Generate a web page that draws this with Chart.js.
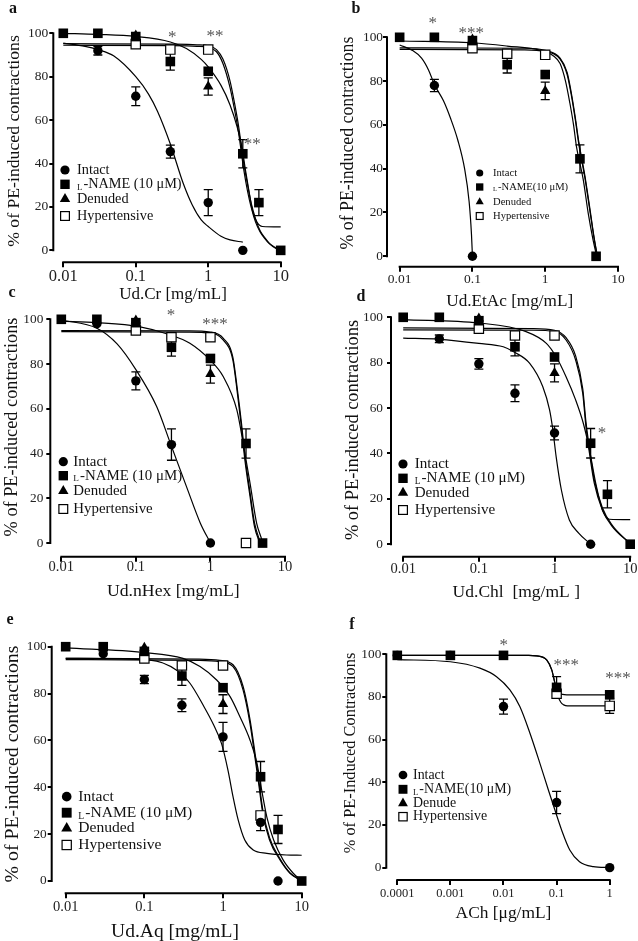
<!DOCTYPE html>
<html>
<head>
<meta charset="utf-8">
<script src="https://cdn.jsdelivr.net/npm/chart.js"></script>
<style>
  html, body { margin: 0; padding: 0; background: #fff; }
  #wrap { position: relative; width: 638px; height: 941px; overflow: hidden; }
  #wrap canvas { position: absolute; left: 0; top: 0; }
</style>
</head>
<body>
<div id="wrap">
  <canvas id="chartA" width="638" height="941"></canvas>
  <canvas id="chartB" width="638" height="941"></canvas>
  <canvas id="chartC" width="638" height="941"></canvas>
  <canvas id="chartD" width="638" height="941"></canvas>
  <canvas id="chartE" width="638" height="941"></canvas>
  <canvas id="chartF" width="638" height="941"></canvas>
</div>
<script>
// ---- tick values
const doseTicks = [0.01, 0.1, 1, 10];
const achTicks = [0.0001, 0.001, 0.01, 0.1, 1];
const pctTicks = [0, 20, 40, 60, 80, 100];

const legendLabels = ["Intact", "L-NAME (10 μM)", "Denuded", "Hypertensive"];
const legendLabelsB = ["Intact", "L-NAME(10 μM)", "Denuded", "Hypertensive"];
const legendLabelsF = ["Intact", "L-NAME(10 μM)", "Denude", "Hypertensive"];

// ---- points: [dose, % of PE-induced contraction, SEM]   fits: [dose, %]
// panel a (Ud.Cr)
const aIntact = [[0.03, 92, 2], [0.1, 71, 4.3], [0.3, 45.5, 3], [1, 22, 6], [3, 0, 0]];
const aLname = [[0.01, 100, 0], [0.03, 100, 0], [0.1, 98.5, 0], [0.3, 87, 4], [1, 82.5, 0], [3, 44.5, 6.5], [5, 22, 6], [10, 0, 0]];
const aDenuded = [[0.1, 99, 0], [1, 75.5, 4]];
const aHyper = [[0.1, 95, 0], [0.3, 92.5, 0], [1, 92.5, 0]];
const aFitIntact = [[0.01, 95.5], [0.02, 94], [0.03, 92.5], [0.05, 89.5], [0.1, 80], [0.15, 72], [0.2, 64], [0.3, 49], [0.45, 31], [0.6, 21], [0.8, 14], [1, 11], [1.5, 6.5], [2, 4.8], [3, 3.8]];
const aFitLname = [[0.01, 100], [0.03, 99.5], [0.1, 98.5], [0.3, 96], [0.5, 93], [0.8, 88], [1, 84.5], [1.5, 76], [2, 67], [2.5, 57], [2.9, 48], [3.3, 36], [3.7, 26], [4.1, 18], [4.7, 13], [5.6, 11], [10, 10.8]];
const aFitDenuded = [[0.01, 95.2], [0.3, 95], [0.7, 94.7], [1, 94.2], [1.3, 92.5], [1.6, 88], [2, 78], [2.3, 68], [2.6, 58], [3.1, 40], [3.5, 30], [3.9, 22], [4.5, 14.5], [5.2, 9], [6, 6], [7, 3.2], [8.5, 1.2], [10, 0]];
const aFitHyper = [[0.01, 94.5], [0.3, 94.3], [0.7, 94], [1, 93.5], [1.3, 91.5], [1.6, 86], [2, 75], [2.3, 65], [2.6, 55], [3.1, 37], [3.5, 27], [3.9, 20], [4.5, 13], [5.2, 8.5], [6, 5.5], [7, 3], [8.5, 1], [10, 0]];
const aStars = [[0.32, 100, "*"], [1.24, 100.5, "**"], [4.05, 50.8, "**"]];

// panel b (Ud.EtAc)
const bIntact = [[0.03, 78, 2.8], [0.1, 0, 0]];
const bLname = [[0.01, 100, 0], [0.03, 100, 0], [0.1, 98.5, 0], [0.3, 87.5, 3.8], [1, 83, 0], [3, 44.5, 6.4], [5, 0, 0]];
const bDenuded = [[0.1, 99, 0], [1, 75.5, 4]];
const bHyper = [[0.1, 95, 0], [0.3, 92.5, 0], [1, 92, 0]];
const bFitIntact = [[0.01, 96.5], [0.015, 94], [0.02, 90.5], [0.025, 85], [0.03, 78.5], [0.04, 71], [0.05, 63], [0.063, 53], [0.078, 40], [0.09, 25], [0.097, 10], [0.1, 0]];
const bFitLname = [[0.01, 98.3], [0.1, 97.5], [0.3, 96], [0.88, 94], [1.3, 91.5], [1.6, 88], [1.9, 80], [2.18, 70], [2.45, 60], [2.69, 50], [3.33, 35], [3.9, 19.6], [4.55, 7.4], [5.1, 0]];
const bFitDenuded = [[0.01, 95.2], [0.5, 95], [1, 94], [1.6, 90.5], [2, 84], [2.3, 74], [2.6, 63], [2.9, 52], [3.5, 37], [4.1, 22], [4.7, 8.5], [5.2, 0]];
const bFitHyper = [[0.01, 94.5], [0.5, 94.3], [1, 93.5], [1.6, 90], [2, 83], [2.3, 73], [2.6, 62], [2.9, 51], [3.5, 36], [4.1, 21], [4.7, 8], [5.2, 0]];
const bStars = [[0.0286, 107.9, "*"], [0.096, 103.6, "***"]];

// panel c (Ud.nHex)
const cIntact = [[0.03, 98, 0], [0.1, 72.5, 4], [0.3, 44, 7], [1, 0, 0]];
const cLname = [[0.01, 100, 0], [0.03, 100, 0], [0.1, 98.5, 0], [0.3, 87.5, 4], [1, 82.5, 0], [3, 44.5, 6.5], [5, 0, 0]];
const cDenuded = [[0.1, 99.5, 0], [1, 75.5, 4]];
const cHyper = [[0.1, 95, 0], [0.3, 92, 0], [1, 92, 0], [3, 0, 0]];
const cFitIntact = [[0.01, 99.7], [0.03, 96], [0.056, 89], [0.1, 77.5], [0.19, 61], [0.29, 44.6], [0.48, 25], [0.73, 9], [1, 0]];
const cFitLname = [[0.01, 99.2], [0.03, 98.5], [0.11, 96.7], [0.29, 93], [0.53, 89.3], [0.99, 81.8], [1.49, 74.3], [2.26, 59.5], [2.75, 44.6], [3.4, 26.7], [4.17, 8.8], [4.9, 1.3], [5, 0]];
const cFitDenuded = [[0.01, 95], [0.5, 94.8], [1, 94.3], [1.49, 91.5], [2, 83], [2.3, 68.5], [2.6, 54], [2.9, 39], [3.4, 22.5], [3.9, 9], [4.7, 0]];
const cFitHyper = [[0.01, 94.5], [0.5, 94.3], [1, 93.8], [1.49, 90.7], [2, 81.8], [2.3, 66.9], [2.6, 52], [2.9, 37], [3.4, 20.7], [3.9, 7.3], [4.6, 0]];
const cStars = [[0.297, 103.4, "*"], [1.15, 99.4, "***"]];

// panel d (Ud.Chl)
const dIntact = [[0.03, 90.5, 1.7], [0.1, 79.5, 2.3], [0.3, 66.5, 3.7], [1, 49, 3], [3, 0, 0]];
const dLname = [[0.01, 100, 0], [0.03, 100, 0], [0.1, 98.5, 0], [0.3, 87, 4], [1, 82.5, 0], [3, 44.5, 6.5], [5, 22, 6], [10, 0, 0]];
const dDenuded = [[0.1, 99.5, 0], [1, 75.5, 4]];
const dHyper = [[0.1, 95, 0], [0.3, 92, 0], [1, 92, 0]];
const dFitIntact = [[0.01, 90.8], [0.03, 90.3], [0.1, 88.5], [0.21, 87], [0.3, 84.5], [0.47, 79.7], [0.7, 69.4], [0.86, 59.2], [0.95, 50.4], [1.05, 38.6], [1.23, 24], [1.57, 10.7], [2.1, 4.8], [2.9, 0.4]];
const dFitLname = [[0.01, 99], [0.1, 97.5], [0.42, 93.7], [0.78, 88.5], [1.05, 82.6], [1.42, 73.8], [1.9, 63.6], [2.4, 53.3], [2.9, 41.5], [3.5, 26.9], [4.3, 15.1], [5.3, 11], [10, 10.8]];
const dFitDenuded = [[0.01, 95.3], [0.5, 95], [1, 94.3], [1.42, 91], [1.9, 83], [2.36, 68.5], [2.6, 54], [2.9, 42], [3.35, 28.5], [4.3, 16], [5.8, 8.3], [8.8, 2], [10, 0.4]];
const dFitHyper = [[0.01, 94.5], [0.5, 94.3], [1, 93.8], [1.42, 90], [1.9, 81.2], [2.36, 66.5], [2.6, 51.8], [2.9, 40], [3.35, 26.9], [4.3, 15], [5.8, 7.8], [8.8, 1.9], [10, 0.4]];
const dStars = [[4.25, 50.7, "*"]];

// panel e (Ud.Aq)
const eIntact = [[0.03, 97, 0], [0.1, 86, 1.8], [0.3, 75, 2.7], [1, 61.5, 6.2], [3, 25, 3.5], [5, 0, 0]];
const eLname = [[0.01, 100, 0], [0.03, 100, 0], [0.1, 98, 0], [0.3, 87.5, 4], [1, 82.5, 0], [3, 44.5, 6.5], [5, 22, 6], [10, 0, 0]];
const eDenuded = [[0.1, 99.5, 0], [1, 75.5, 4]];
const eHyper = [[0.1, 95, 0], [0.3, 92, 0], [1, 92, 0], [3, 28, 0]];
const eFitIntact = [[0.01, 95], [0.118, 94.3], [0.257, 90], [0.38, 84.4], [0.56, 75], [0.75, 67], [0.96, 58.5], [1.16, 47], [1.34, 36], [1.56, 26], [1.89, 17.5], [2.42, 13.2], [3.6, 11.8], [6.4, 11.1], [10, 11]];
const eFitLname = [[0.01, 99.5], [0.1, 97.5], [0.31, 95], [0.51, 91.5], [0.83, 85.8], [1.23, 78.7], [1.64, 70.1], [2.2, 60.2], [2.7, 50.2], [3.1, 38.8], [3.6, 27.4], [4.4, 17.5], [5.8, 9], [7.8, 3.3], [10, 0]];
const eFitDenuded = [[0.01, 95], [0.5, 94.7], [0.91, 94.2], [1.34, 92.3], [1.8, 83], [2.2, 69], [2.54, 55], [2.8, 45], [3.2, 30.5], [3.9, 18.5], [5.3, 9.5], [7.1, 3.5], [10, 0]];
const eFitHyper = [[0.01, 94.5], [0.5, 94.2], [0.91, 93.6], [1.34, 91.5], [1.8, 81.5], [2.2, 67.3], [2.54, 53], [2.8, 43], [3.2, 28.9], [3.9, 17.5], [5.3, 9], [7.1, 3.3], [10, 0]];
const eStars = [];

// panel f (ACh)
const fIntact = [[0.0001, 99.5, 0], [0.001, 99.5, 0], [0.01, 75.5, 3.5], [0.1, 30.5, 5.2], [1, 0, 0]];
const fLname = [[0.0001, 99.5, 0], [0.001, 99.5, 0], [0.01, 99.5, 0], [0.1, 84.5, 5], [1, 81, 0]];
const fDenude = [];
const fHyper = [[0.1, 81.5, 0], [1, 75.8, 3.5]];
const fFitIntact = [[0.0001, 97.5], [0.001, 96.5], [0.0036, 93.5], [0.0074, 89.5], [0.0132, 83.3], [0.0203, 75.5], [0.0315, 63], [0.0485, 48.9], [0.07, 36.4], [0.093, 27], [0.124, 17.7], [0.177, 8.3], [0.27, 2.8], [0.49, 0.5], [1, 0]];
const fFitLname = [[0.0001, 99.5], [0.03, 99.5], [0.042, 99.3], [0.065, 97.4], [0.081, 92.7], [0.093, 86.5], [0.106, 82.5], [0.13, 81.2], [0.155, 81], [1, 81]];
const fFitHyper = [[0.0001, 99.5], [0.03, 99.5], [0.042, 99.3], [0.065, 97.4], [0.081, 92.7], [0.093, 86.5], [0.106, 80.5], [0.12, 77.5], [0.136, 76.3], [0.16, 75.8], [1, 75.8]];
const fStars = [[0.0101, 106, "*"], [0.152, 96.6, "***"], [1.43, 90.3, "***"]];

// ---- look
const serif = '"Liberation Serif", "Times New Roman", serif';
// order: intact, L-NAME, denuded, hypertensive
const markStyles = [
    { style: "circle", radius: 4.7, fill: "#000", border: 0 },
    { style: "rect", radius: 6.8, fill: "#000", border: 0 },
    { style: "triangle", radius: 6, fill: "#000", border: 0 },
    { style: "rect", radius: 6.6, fill: "#fff", border: 1.2 }
];
const legendKinds = ["circle", "square", "triangle", "open"];

const panels = [
    {
        canvas: "chartA", letter: "a", letterAt: [13, 9],
        area: { left: 53.3, top: 33.3, right: 280.7, bottom: 262.3 },
        xMin: 0.00728, xMax: 10, yMin: -5.5, xTicks: doseTicks,
        xTickFont: 16.5, xTickPad: -1, yTickFont: 13.5, yTickPad: 1,
        xTitle: "Ud.Cr [mg/mL]", xTitleAt: [173, 295], xTitleFont: 17,
        yTitle: "% of PE-induced contractions", yTitleAt: [14, 141], yTitleFont: 17.7,
        points: [aIntact, aLname, aDenuded, aHyper],
        fits: [aFitIntact, aFitLname, aFitDenuded, aFitHyper],
        stars: aStars,
        legend: { x: 65, tx: 77, rows: [170, 184.3, 199, 216], font: 14.3, scale: 1, labels: legendLabels }
    },
    {
        canvas: "chartB", letter: "b", letterAt: [356, 9],
        area: { left: 387, top: 37.3, right: 618, bottom: 266.7 },
        xMin: 0.0067, xMax: 10, yMin: -4.75, xTicks: doseTicks,
        xTickFont: 13.5, xTickPad: 0, yTickFont: 13.3, yTickPad: 0,
        xTitle: "Ud.EtAc [mg/mL]", xTitleAt: [509.7, 301.7], xTitleFont: 17.2,
        yTitle: "% of PE-induced contractions", yTitleAt: [348, 143], yTitleFont: 17.8,
        points: [bIntact, bLname, bDenuded, bHyper],
        fits: [bFitIntact, bFitLname, bFitDenuded, bFitHyper],
        stars: bStars,
        legend: { x: 479.7, tx: 493, rows: [173, 187, 202, 216], font: 10.6, scale: 0.78, labels: legendLabelsB }
    },
    {
        canvas: "chartC", letter: "c", letterAt: [12, 293],
        area: { left: 50.3, top: 319.3, right: 285, bottom: 556.7 },
        xMin: 0.00712, xMax: 10, yMin: -6.1, xTicks: doseTicks,
        xTickFont: 14.5, xTickPad: -3, yTickFont: 13.3, yTickPad: 3,
        xTitle: "Ud.nHex [mg/mL]", xTitleAt: [173.3, 591.7], xTitleFont: 17.7,
        yTitle: "% of PE-induced contractions", yTitleAt: [12, 427], yTitleFont: 18.3,
        points: [cIntact, cLname, cDenuded, cHyper],
        fits: [cFitIntact, cFitLname, cFitDenuded, cFitHyper],
        stars: cStars,
        legend: { x: 63.3, tx: 73.3, rows: [461.7, 475.7, 491, 509], font: 14.9, scale: 1, labels: legendLabels }
    },
    {
        canvas: "chartD", letter: "d", letterAt: [361, 297],
        area: { left: 391, top: 317.3, right: 631.3, bottom: 556.7 },
        xMin: 0.0069, xMax: 10, yMin: -5.5, xTicks: doseTicks,
        xTickFont: 14.5, xTickPad: -1, yTickFont: 13.3, yTickPad: 4,
        xTitle: "Ud.Chl  [mg/mL ]", xTitleAt: [516.3, 592.7], xTitleFont: 17.5,
        yTitle: "% of PE-induced contractions", yTitleAt: [353, 430], yTitleFont: 18.4,
        points: [dIntact, dLname, dDenuded, dHyper],
        fits: [dFitIntact, dFitLname, dFitDenuded, dFitHyper],
        stars: dStars,
        legend: { x: 403, tx: 414.7, rows: [464, 478.3, 492.7, 510], font: 15.1, scale: 1, labels: legendLabels }
    },
    {
        canvas: "chartE", letter: "e", letterAt: [10, 620],
        area: { left: 51.7, top: 646.7, right: 301.7, bottom: 893.3 },
        xMin: 0.00664, xMax: 10, yMin: -5.25, xTicks: doseTicks,
        xTickFont: 14.5, xTickPad: 0, yTickFont: 13.3, yTickPad: 1,
        xTitle: "Ud.Aq [mg/mL]", xTitleAt: [175, 931.7], xTitleFont: 19.5,
        yTitle: "% of PE-induced contractions", yTitleAt: [13, 764], yTitleFont: 19.8,
        points: [eIntact, eLname, eDenuded, eHyper],
        fits: [eFitIntact, eFitLname, eFitDenuded, eFitHyper],
        stars: eStars,
        legend: { x: 66.7, tx: 78.3, rows: [796.7, 812.7, 828.3, 845], font: 15.6, scale: 1.05, labels: legendLabels }
    },
    {
        canvas: "chartF", letter: "f", letterAt: [352, 625],
        area: { left: 386.3, top: 654.3, right: 609.7, bottom: 880 },
        xMin: 0.0000621, xMax: 1, yMin: -5.8, xTicks: achTicks,
        xTickFont: 12.5, xTickPad: 1, yTickFont: 13.3, yTickPad: 1,
        xTitle: "ACh [μg/mL]", xTitleAt: [503.5, 913.3], xTitleFont: 17.4,
        yTitle: "% of PE-Induced Contractions", yTitleAt: [351, 753], yTitleFont: 16.4,
        points: [fIntact, fLname, fDenude, fHyper],
        fits: [fFitIntact, fFitLname, fFitHyper],
        stars: fStars,
        legend: { x: 403, tx: 413, rows: [775, 789.3, 803.3, 816.7], font: 13.9, scale: 0.95, labels: legendLabelsF }
    }
];

// legend symbols
function drawMark(ctx, kind, x, y, s)
{
    ctx.save();
    ctx.fillStyle = "#000";
    ctx.strokeStyle = "#000";
    ctx.lineWidth = 1.2;
    ctx.beginPath();
    if (kind === "circle") {
        ctx.arc(x, y, 4.6 * s, 0, Math.PI * 2);
        ctx.fill();
    } else if (kind === "square") {
        let h = 4.7 * s;
        ctx.fillRect(x - h, y - h, 2 * h, 2 * h);
    } else if (kind === "triangle") {
        let r = 6 * s;
        ctx.moveTo(x, y - r);
        ctx.lineTo(x + r * 0.866, y + r / 2);
        ctx.lineTo(x - r * 0.866, y + r / 2);
        ctx.closePath();
        ctx.fill();
    } else {
        let h = 4.4 * s;
        ctx.fillStyle = "#fff";
        ctx.fillRect(x - h, y - h, 2 * h, 2 * h);
        ctx.strokeRect(x - h, y - h, 2 * h, 2 * h);
    }
    ctx.restore();
}

// "L-NAME" is printed with a small lowered L
function drawLabel(ctx, text, x, y, size)
{
    if (text.startsWith("L-")) {
        ctx.font = `${size * 0.62}px ${serif}`;
        ctx.fillText("L", x, y + size * 0.22);
        let w = ctx.measureText("L").width;
        ctx.font = `${size}px ${serif}`;
        ctx.fillText(text.slice(1), x + w + 1, y);
    } else {
        ctx.font = `${size}px ${serif}`;
        ctx.fillText(text, x, y);
    }
}

function makeDecor(p)
{
    return {
        id: "panelDecor",
        beforeDatasetsDraw(chart) {
            let ctx = chart.ctx;
            let xs = chart.scales.x, ys = chart.scales.y;
            ctx.save();
            // axis lines: y from 0 to 100, x from first to last tick
            ctx.strokeStyle = "#000";
            ctx.lineWidth = 2;
            ctx.beginPath();
            ctx.moveTo(chart.chartArea.left, ys.getPixelForValue(100) - 1);
            ctx.lineTo(chart.chartArea.left, ys.getPixelForValue(0) + 1);
            ctx.moveTo(xs.getPixelForValue(p.xTicks[0]) - 1, chart.chartArea.bottom);
            ctx.lineTo(xs.getPixelForValue(p.xTicks[p.xTicks.length - 1]) + 1, chart.chartArea.bottom);
            ctx.stroke();
            // error bars (SEM)
            ctx.lineWidth = 1.3;
            chart.data.datasets.forEach((ds, i) => {
                if (ds.showLine) return;
                let meta = chart.getDatasetMeta(i);
                ds.data.forEach((pt, j) => {
                    if (!pt.e) return;
                    let x = meta.data[j].x;
                    let yTop = ys.getPixelForValue(pt.y + pt.e);
                    let yBot = ys.getPixelForValue(pt.y - pt.e);
                    ctx.beginPath();
                    ctx.moveTo(x, yTop);
                    ctx.lineTo(x, yBot);
                    ctx.moveTo(x - 4.5, yTop);
                    ctx.lineTo(x + 4.5, yTop);
                    ctx.moveTo(x - 4.5, yBot);
                    ctx.lineTo(x + 4.5, yBot);
                    ctx.stroke();
                });
            });
            ctx.restore();
        },
        afterDraw(chart) {
            let ctx = chart.ctx;
            let xs = chart.scales.x, ys = chart.scales.y;
            ctx.save();
            ctx.fillStyle = "#111";
            ctx.textBaseline = "middle";

            // panel letter
            ctx.textAlign = "center";
            ctx.font = `bold 16px ${serif}`;
            ctx.fillText(p.letter, p.letterAt[0], p.letterAt[1]);

            // axis titles
            ctx.font = `${p.xTitleFont}px ${serif}`;
            ctx.fillText(p.xTitle, p.xTitleAt[0], p.xTitleAt[1]);
            ctx.save();
            ctx.translate(p.yTitleAt[0], p.yTitleAt[1]);
            ctx.rotate(-Math.PI / 2);
            ctx.font = `${p.yTitleFont}px ${serif}`;
            ctx.fillText(p.yTitle, 0, 0);
            ctx.restore();

            // legend
            ctx.textAlign = "left";
            let lg = p.legend;
            for (let i = 0; i < lg.labels.length; i++) {
                drawMark(ctx, legendKinds[i], lg.x, lg.rows[i], lg.scale);
                ctx.fillStyle = "#111";
                drawLabel(ctx, lg.labels[i], lg.tx, lg.rows[i], lg.font);
            }

            // significance stars
            ctx.textAlign = "center";
            ctx.textBaseline = "alphabetic";
            ctx.fillStyle = "#555";
            ctx.font = `17px ${serif}`;
            for (let s of p.stars) {
                ctx.fillText(s[2], xs.getPixelForValue(s[0]), ys.getPixelForValue(s[1]) + 8.5);
            }
            ctx.restore();
        }
    };
}

function buildPanel(p)
{
    let datasets = [];
    // markers first so they sit on top of the fitted curves
    p.points.forEach((pts, i) => {
        let st = markStyles[i];
        datasets.push({
            data: pts.map(([x, y, e]) => ({ x, y, e })),
            showLine: false,
            pointStyle: st.style,
            pointRadius: st.radius,
            pointHoverRadius: st.radius,
            pointBackgroundColor: st.fill,
            pointBorderColor: "#000",
            pointBorderWidth: st.border,
            clip: false
        });
    });
    p.fits.forEach(fit => {
        datasets.push({
            data: fit.map(([x, y]) => ({ x, y })),
            showLine: true,
            borderColor: "#000",
            borderWidth: 1.2,
            pointRadius: 0,
            pointHoverRadius: 0,
            cubicInterpolationMode: "monotone",
            fill: false,
            clip: false
        });
    });

    new Chart(document.getElementById(p.canvas), {
        type: "scatter",
        data: { datasets },
        options: {
            responsive: false,
            animation: false,
            events: [],
            layout: {
                padding: {
                    left: p.area.left - 40,
                    top: p.area.top,
                    right: 638 - p.area.right,
                    bottom: 941 - p.area.bottom - 40
                }
            },
            plugins: {
                legend: { display: false },
                tooltip: { enabled: false }
            },
            scales: {
                x: {
                    type: "logarithmic",
                    min: p.xMin,
                    max: p.xMax,
                    afterBuildTicks: (s) => { s.ticks = p.xTicks.map(v => ({ value: v })); },
                    afterFit: (s) => { s.height = 40; },
                    border: { display: false },
                    grid: { drawOnChartArea: false, drawTicks: true, tickLength: 5, color: "#000", lineWidth: 2 },
                    ticks: {
                        autoSkip: false,
                        maxRotation: 0,
                        padding: p.xTickPad,
                        color: "#222",
                        font: { family: serif, size: p.xTickFont },
                        callback: (v) => String(v)
                    }
                },
                y: {
                    min: p.yMin,
                    max: 100,
                    afterBuildTicks: (s) => { s.ticks = pctTicks.map(v => ({ value: v })); },
                    afterFit: (s) => { s.width = 40; },
                    border: { display: false },
                    grid: { drawOnChartArea: false, drawTicks: true, tickLength: 4, color: "#000", lineWidth: 2 },
                    ticks: {
                        padding: p.yTickPad,
                        color: "#222",
                        font: { family: serif, size: p.yTickFont },
                        callback: (v) => String(v)
                    }
                }
            }
        },
        plugins: [makeDecor(p)]
    });
}

panels.forEach(buildPanel);
</script>
</body>
</html>
